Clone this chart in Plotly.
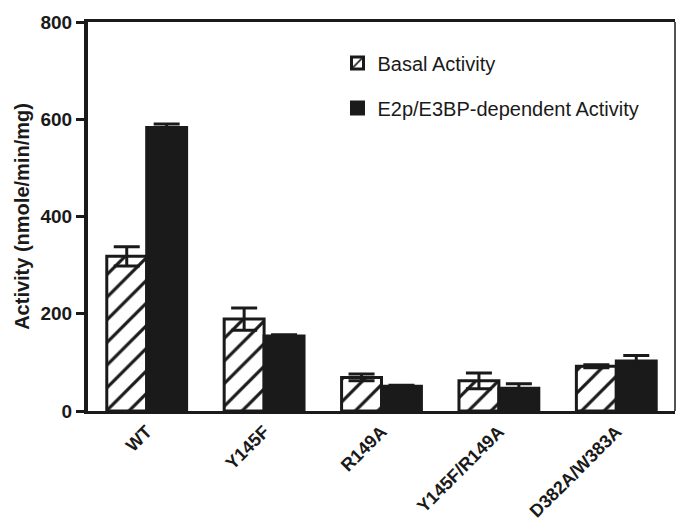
import plotly.graph_objects as go

categories = ["WT", "Y145F", "R149A", "Y145F/R149A", "D382A/W383A"]
basal = [318, 189, 69, 62, 92]
basal_err = [20, 23, 7, 16, 3]
dependent = [583, 154, 51, 47, 103]
dependent_err = [7, 3, 2, 9, 11]
y_ticks = [0, 200, 400, 600, 800]

FONT = "Liberation Sans, Arial, sans-serif"
INK = "#1a1a1a"

fig = go.Figure()
fig.add_trace(go.Bar(
    x=categories, y=basal, name="Basal Activity", legendgroup="a",
    marker=dict(color="white", line=dict(color=INK, width=3),
                pattern=dict(shape="/", fgcolor=INK, bgcolor="white",
                             fgopacity=1, fillmode="replace",
                             size=16, solidity=0.2)),
    error_y=dict(type="data", array=basal_err, color=INK,
                 thickness=3, width=13),
))
fig.add_trace(go.Bar(
    x=categories, y=dependent, name="E2p/E3BP-dependent Activity", legendgroup="b",
    marker=dict(color=INK, line=dict(color=INK, width=3)),
    error_y=dict(type="data", array=dependent_err, color=INK,
                 thickness=3, width=13),
))

fig.update_layout(
    width=676, height=519,
    margin=dict(l=88, r=1, t=22, b=108, autoexpand=False),
    paper_bgcolor="white", plot_bgcolor="white",
    barmode="group", bargap=0.32, bargroupgap=0,
    font=dict(family=FONT, color=INK),
    showlegend=True,
    legend=dict(x=0.425, y=0.945, xanchor="left", yanchor="top",
                font=dict(family=FONT, size=20, color=INK),
                bgcolor="rgba(0,0,0,0)", tracegroupgap=16),
    xaxis=dict(showline=True, linewidth=3, linecolor=INK, mirror=True,
               ticks="", tickangle=-45, automargin=False,
               tickfont=dict(family=FONT, size=18, color=INK, weight="bold"),
               range=[-0.5, 4.5], showgrid=False),
    yaxis=dict(range=[0, 800], tickvals=y_ticks, showline=True, linewidth=4,
               linecolor=INK, ticks="outside", ticklen=8, tickwidth=3,
               tickcolor=INK, showgrid=False, zeroline=False, automargin=False,
               tickfont=dict(family=FONT, size=19, color=INK, weight="bold"),
               title=dict(text="Activity (nmole/min/mg)", standoff=6,
                          font=dict(family=FONT, size=20, color=INK, weight="bold"))),
    shapes=[dict(type="line", xref="paper", yref="paper", x0=1, x1=1, y0=0, y1=1,
                 line=dict(color=INK, width=1.5))],
)

fig.write_html("out.html", config={"displayModeBar": False},
               post_script="document.body.style.margin='0';")
